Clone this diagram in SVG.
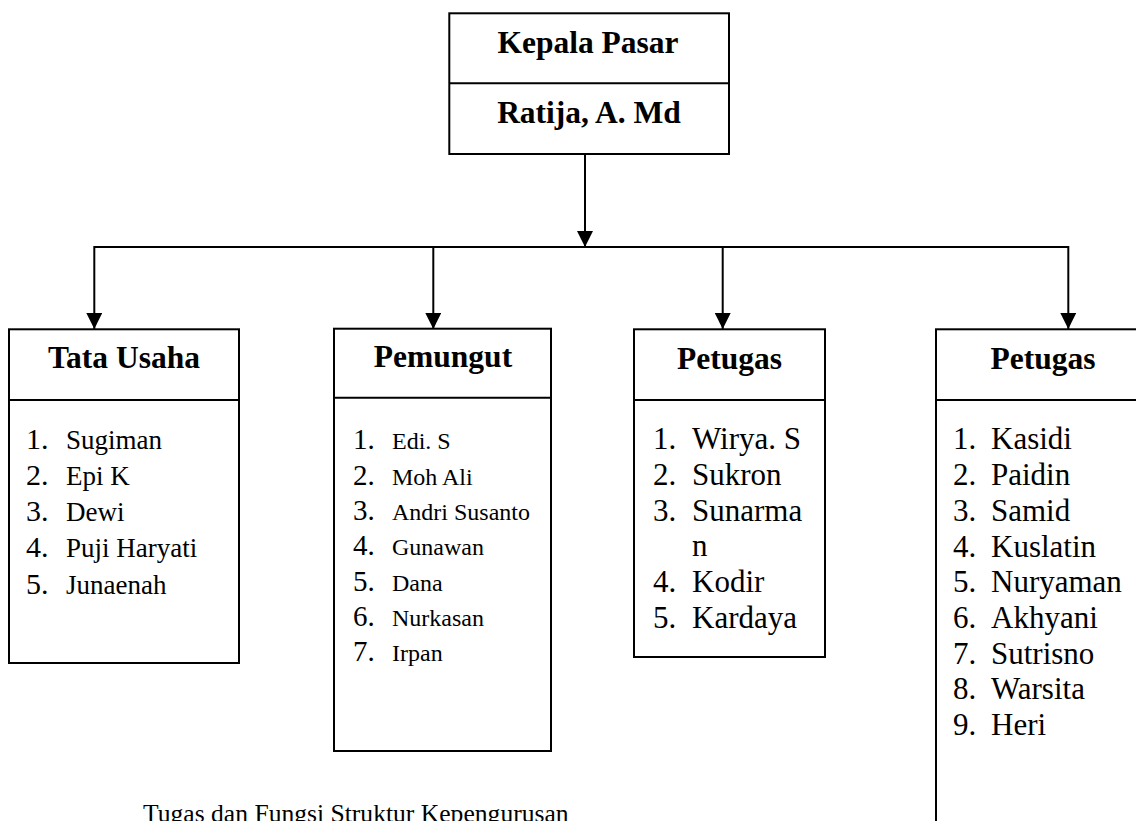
<svg xmlns="http://www.w3.org/2000/svg" width="1136" height="821" viewBox="0 0 1136 821">
<style>
  .box { fill: #fff; stroke: #000; stroke-width: 2; }
  .div { stroke: #000; stroke-width: 2; }
  .conn { stroke: #000; stroke-width: 2; fill: none; }
  .title { font-family: "Liberation Serif", "Times New Roman", serif; font-weight: bold; font-size: 31.5px; fill: #000; text-anchor: middle; }
  .item { font-family: "Liberation Serif", "Times New Roman", serif; fill: #000; }
  .s1 { font-size: 27px; }
  .n1 { font-size: 30px; }
  .s2 { font-size: 24px; }
  .n2 { font-size: 29px; }
  .s3 { font-size: 31px; }
  .cap { font-family: "Liberation Serif", "Times New Roman", serif; font-size: 25.6px; fill: #000; }
</style>
<defs>
  <marker id="arr" markerUnits="userSpaceOnUse" markerWidth="16" markerHeight="16" refX="16" refY="8" orient="auto">
    <path d="M0,0 L16,8 L0,16 z" fill="#000"/>
  </marker>
</defs>

<g id="connectors">
  <line class="conn" x1="585" y1="154" x2="585" y2="247" marker-end="url(#arr)"/>
  <line class="conn" x1="94.3" y1="247" x2="1068.3" y2="247"/>
  <line class="conn" x1="94.3" y1="246" x2="94.3" y2="329" marker-end="url(#arr)"/>
  <line class="conn" x1="433.3" y1="247" x2="433.3" y2="329" marker-end="url(#arr)"/>
  <line class="conn" x1="722.7" y1="247" x2="722.7" y2="329" marker-end="url(#arr)"/>
  <line class="conn" x1="1068.3" y1="246" x2="1068.3" y2="329" marker-end="url(#arr)"/>
</g>

<g id="kepala-pasar">
  <rect class="box" x="449.3" y="13.3" width="279.7" height="140.7"/>
  <line class="div" x1="449.3" y1="83.3" x2="729" y2="83.3"/>
  <text class="title" x="588" y="53.3">Kepala Pasar</text>
  <text class="title" x="589" y="123.3">Ratija, A. Md</text>
</g>

<g id="tata-usaha">
  <rect class="box" x="9" y="329.3" width="230" height="333.7"/>
  <line class="div" x1="9" y1="400" x2="239" y2="400"/>
  <text class="title" x="124" y="368.3">Tata Usaha</text>
  <text class="item" y="449"><tspan class="n1" x="26">1.</tspan><tspan class="s1" x="66">Sugiman</tspan></text>
  <text class="item" y="485"><tspan class="n1" x="26">2.</tspan><tspan class="s1" x="66">Epi K</tspan></text>
  <text class="item" y="521"><tspan class="n1" x="26">3.</tspan><tspan class="s1" x="66">Dewi</tspan></text>
  <text class="item" y="557"><tspan class="n1" x="26">4.</tspan><tspan class="s1" x="66">Puji Haryati</tspan></text>
  <text class="item" y="594"><tspan class="n1" x="26">5.</tspan><tspan class="s1" x="66">Junaenah</tspan></text>
</g>

<g id="pemungut">
  <rect class="box" x="334" y="328.7" width="217" height="422.3"/>
  <line class="div" x1="334" y1="397.7" x2="551" y2="397.7"/>
  <text class="title" x="443" y="366.7">Pemungut</text>
  <text class="item" y="449"><tspan class="n2" x="353">1.</tspan><tspan class="s2" x="392">Edi. S</tspan></text>
  <text class="item" y="485"><tspan class="n2" x="353">2.</tspan><tspan class="s2" x="392">Moh Ali</tspan></text>
  <text class="item" y="520"><tspan class="n2" x="353">3.</tspan><tspan class="s2" x="392">Andri Susanto</tspan></text>
  <text class="item" y="555"><tspan class="n2" x="353">4.</tspan><tspan class="s2" x="392">Gunawan</tspan></text>
  <text class="item" y="591"><tspan class="n2" x="353">5.</tspan><tspan class="s2" x="392">Dana</tspan></text>
  <text class="item" y="626"><tspan class="n2" x="353">6.</tspan><tspan class="s2" x="392">Nurkasan</tspan></text>
  <text class="item" y="661"><tspan class="n2" x="353">7.</tspan><tspan class="s2" x="392">Irpan</tspan></text>
</g>

<g id="petugas-1">
  <rect class="box" x="634" y="329.3" width="191" height="327.7"/>
  <line class="div" x1="634" y1="400" x2="825" y2="400"/>
  <text class="title" x="729.5" y="369.3">Petugas</text>
  <text class="item s3" y="449"><tspan x="653">1.</tspan><tspan x="692">Wirya. S</tspan></text>
  <text class="item s3" y="485"><tspan x="653">2.</tspan><tspan x="692">Sukron</tspan></text>
  <text class="item s3" y="521"><tspan x="653">3.</tspan><tspan x="692">Sunarma</tspan></text>
  <text class="item s3" x="692" y="556">n</text>
  <text class="item s3" y="592"><tspan x="653">4.</tspan><tspan x="692">Kodir</tspan></text>
  <text class="item s3" y="628"><tspan x="653">5.</tspan><tspan x="692">Kardaya</tspan></text>
</g>

<g id="petugas-2">
  <rect class="box" x="936" y="329.3" width="215.7" height="520"/>
  <line class="div" x1="936" y1="400" x2="1151.7" y2="400"/>
  <text class="title" x="1043" y="369.3">Petugas</text>
  <text class="item s3" y="449"><tspan x="953">1.</tspan><tspan x="991">Kasidi</tspan></text>
  <text class="item s3" y="485"><tspan x="953">2.</tspan><tspan x="991">Paidin</tspan></text>
  <text class="item s3" y="521"><tspan x="953">3.</tspan><tspan x="991">Samid</tspan></text>
  <text class="item s3" y="557"><tspan x="953">4.</tspan><tspan x="991">Kuslatin</tspan></text>
  <text class="item s3" y="592"><tspan x="953">5.</tspan><tspan x="991">Nuryaman</tspan></text>
  <text class="item s3" y="628"><tspan x="953">6.</tspan><tspan x="991">Akhyani</tspan></text>
  <text class="item s3" y="664"><tspan x="953">7.</tspan><tspan x="991">Sutrisno</tspan></text>
  <text class="item s3" y="699"><tspan x="953">8.</tspan><tspan x="991">Warsita</tspan></text>
  <text class="item s3" y="735"><tspan x="953">9.</tspan><tspan x="991">Heri</tspan></text>
</g>

<text class="cap" x="143" y="822">Tugas dan Fungsi Struktur Kepengurusan</text>
</svg>
